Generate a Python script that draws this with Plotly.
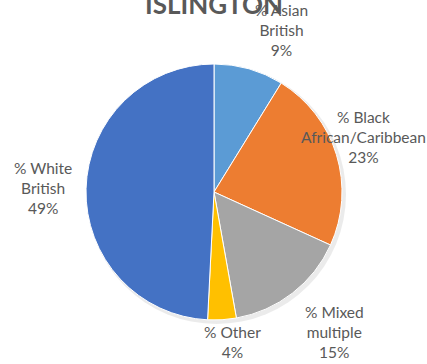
import plotly.graph_objects as go

categories = ["% Asian British", "% Black African/Caribbean", "% Mixed multiple", "% Other", "% White British"]
label_lines = ["% Asian<br>British", "% Black<br>African/Caribbean", "% Mixed<br>multiple", "% Other", "% White<br>British"]
values = [8.8, 23.0, 15.4, 3.6, 49.2]
colors = ["#5B9BD5", "#ED7D31", "#A5A5A5", "#FFC000", "#4472C4"]
title_text = "ISLINGTON"

W, H = 427, 364
cx, cy, r = 214, 192, 128

def px_x(x):
    return x / W

def px_y(y):
    return 1 - y / H

dom_x = [px_x(cx - r), px_x(cx + r)]
dom_y = [px_y(cy + r), px_y(cy - r)]

fig = go.Figure()
# soft shadow
fig.add_trace(go.Pie(values=[1], labels=["shadow"], marker=dict(colors=["rgba(0,0,0,0.08)"]),
                     domain=dict(x=[px_x(cx - r + 1), px_x(cx + r + 4)], y=[px_y(cy + r + 4), px_y(cy - r + 1)]),
                     textinfo="none", hoverinfo="skip", showlegend=False, sort=False))
fig.add_trace(go.Pie(
    labels=categories, values=values, sort=False, direction="clockwise", rotation=0,
    marker=dict(colors=colors, line=dict(color="white", width=1)),
    textinfo="none", domain=dict(x=dom_x, y=dom_y), showlegend=False,
))

# label centres (pixels) as Excel placed them
label_pos = [(281, 30), (363, 137), (334, 332), (232, 342), (43, 188)]
total = sum(values)
annotations = [dict(text="<b>" + title_text + "</b>", x=px_x(214), y=px_y(22), xref="paper", yref="paper",
                    xanchor="center", yanchor="bottom", showarrow=False,
                    font=dict(family="Lato", size=26, color="#595959"))]
for lab, v, (lx, ly) in zip(label_lines, values, label_pos):
    annotations.append(dict(text=f"{lab}<br>{round(v / total * 100)}%", x=px_x(lx), y=px_y(ly),
                            xref="paper", yref="paper", xanchor="center", yanchor="middle",
                            showarrow=False, align="center",
                            font=dict(family="Lato", size=15.5, color="#595959")))

fig.update_layout(width=W, height=H, margin=dict(l=0, r=0, t=0, b=0),
                  paper_bgcolor="white", plot_bgcolor="white", annotations=annotations)
fig.write_html("out.html", config={"displayModeBar": False},
               post_script="document.body.style.margin='0';")
